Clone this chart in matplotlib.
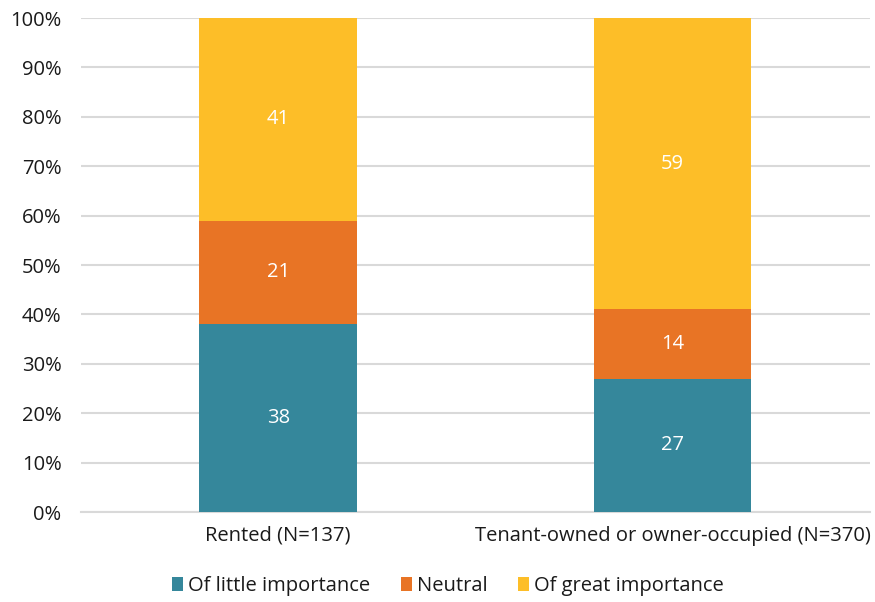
import matplotlib.pyplot as plt
import numpy as np

plt.rcParams['font.family'] = ['Open Sans', 'DejaVu Sans']

categories = ['Rented (N=137)', 'Tenant-owned or owner-occupied (N=370)']
series_names = ['Of little importance', 'Neutral', 'Of great importance']
little = [38, 27]
neutral = [21, 14]
great = [41, 59]
colors = ['#35879b', '#e87425', '#fdbe28']

fig = plt.figure(figsize=(8.75, 6.02), dpi=100)
ax = fig.add_axes([0.0926, 0.1495, 0.9014, 0.8205])

x = np.arange(len(categories))
bottom = np.zeros(len(categories))
for name, vals, col in zip(series_names, [little, neutral, great], colors):
    vals = np.array(vals, dtype=float)
    ax.bar(x, vals, 0.4, bottom=bottom, color=col, label=name, zorder=3)
    for xi, b, v in zip(x, bottom, vals):
        ax.text(xi, b + v / 2, f'{v:.0f}', ha='center', va='center',
                color='white', fontsize=14.5, zorder=4)
    bottom += vals

ax.set_xlim(-0.5, 1.5)
ax.set_ylim(0, 100)
ax.set_yticks(np.arange(0, 101, 10))
ax.set_yticklabels([f'{t}%' for t in range(0, 101, 10)])
ax.set_xticks(x)
ax.set_xticklabels(categories)
ax.tick_params(axis='both', length=0, labelsize=14.5, colors='#1a1a1a')
ax.tick_params(axis='y', pad=14)
ax.tick_params(axis='x', pad=10)
ax.grid(axis='y', color='#d9d9d9', linewidth=1.5, zorder=0)
for s in ['top', 'right', 'left']:
    ax.spines[s].set_visible(False)
ax.spines['bottom'].set_color('#d9d9d9')
ax.spines['bottom'].set_linewidth(1.5)

leg = ax.legend(loc='upper center', bbox_to_anchor=(0.465, -0.093), ncol=3,
                frameon=False, fontsize=14.5, handlelength=0.55, handleheight=0.7,
                handletextpad=0.25, columnspacing=1.5)
for t in leg.get_texts():
    t.set_color('#1a1a1a')

fig.savefig('out.png', dpi=100)
